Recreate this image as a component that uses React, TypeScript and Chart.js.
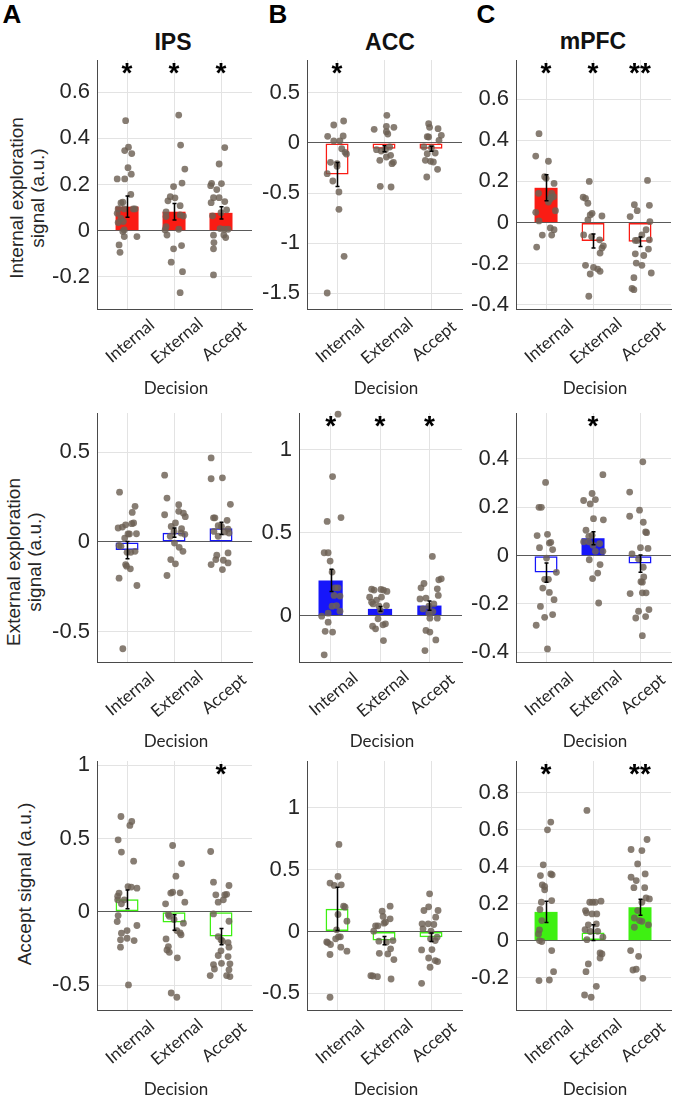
import React, { useEffect, useRef } from "react";
import { Chart, registerables } from "chart.js";
Chart.register(...registerables);

type Pt = [number, number]; // [horizontal jitter in category units, value]

const categories = ["Internal", "External", "Accept"];
const regions = ["IPS", "ACC", "mPFC"];
const panelLetters = ["A", "B", "C"];
const signalTitles = [
  ["Internal exploration", "signal (a.u.)"],
  ["External exploration", "signal (a.u.)"],
  ["Accept signal (a.u.)"],
];
const xTitle = "Decision";
const xRange = [0.36, 3.66];

// ---------- Row 1: internal exploration signal ----------
const ipsIntMean = [0.104, 0.082, 0.077];
const ipsIntSem = [0.046, 0.036, 0.027];
const ipsIntStars = ["*", "*", "*"];
const ipsIntFilled = [true, true, true];
const ipsIntTicks = [-0.2, 0, 0.2, 0.4, 0.6];
const ipsIntRange = [-0.34, 0.74];
const ipsIntPoints: Pt[][] = [
  [[-0.03,0.477],[-0.21,0.224],[-0.05,0.224],[-0.05,0.347],[0.03,0.362],[0.10,0.334],[0.02,0.273],[0.09,0.245],[0.08,0.157],[-0.13,0.12],[-0.09,0.123],[-0.19,0.094],[-0.06,0.094],[0.13,0.094],[0.17,0.094],[-0.21,0.075],[-0.13,0.053],[-0.08,0.039],[-0.19,0.035],[-0.06,0.003],[-0.09,-0.004],[-0.06,-0.026],[0.21,-0.026],[-0.17,-0.062],[-0.15,-0.094]],
  [[0.10,0.501],[0.14,0.371],[0.23,0.267],[-0.01,0.191],[0.17,0.206],[-0.08,0.147],[0.02,0.142],[-0.13,0.129],[0.13,0.108],[-0.17,0.081],[-0.17,0.061],[0.13,0.068],[0.2,0.063],[-0.17,0.017],[-0.19,0.003],[0.10,0.006],[-0.15,-0.019],[-0.01,-0.079],[0.16,-0.065],[-0.06,-0.137],[0.18,-0.178],[0.13,-0.269]],
  [[0.08,0.36],[-0.04,0.289],[-0.2,0.205],[-0.22,0.195],[0.01,0.204],[-0.09,0.178],[-0.16,0.143],[-0.04,0.143],[0.08,0.126],[-0.21,0.121],[0,0.078],[0.12,0.09],[-0.18,0.064],[-0.02,0.009],[0.07,0.006],[0.15,0.006],[-0.16,-0.02],[0.06,-0.019],[0.1,-0.03],[-0.15,-0.052],[-0.16,-0.079],[-0.16,-0.192]],
];

const accIntMean = [-0.316, -0.057, -0.057];
const accIntSem = [0.12, 0.03, 0.025];
const accIntStars = ["*", "", ""];
const accIntFilled = [false, false, false];
const accIntTicks = [-1.5, -1, -0.5, 0, 0.5];
const accIntRange = [-1.66, 0.83];
const accIntPoints: Pt[][] = [
  [[0.14,0.22],[-0.07,0.18],[-0.2,0.067],[0.13,0.07],[-0.07,0.02],[0.06,0.02],[0.17,-0.093],[0.2,-0.11],[-0.14,-0.193],[0,-0.207],[0,-0.233],[-0.21,-0.307],[-0.09,-0.38],[0.04,-0.49],[0.04,-0.663],[0.15,-1.133],[-0.21,-1.5],[0.1,-0.057]],
  [[0.06,0.277],[-0.21,0.137],[0.05,0.167],[0.21,0.157],[0.05,0.113],[0.08,0.09],[-0.16,-0.067],[-0.06,-0.08],[0.03,-0.067],[0.12,-0.04],[0.14,-0.123],[-0.09,-0.173],[0.17,-0.207],[0.2,-0.193],[0.05,-0.14],[-0.08,-0.433],[0.15,-0.44]],
  [[-0.05,0.193],[-0.03,0.157],[0.15,0.143],[-0.05,0.06],[-0.08,0.063],[0.22,0.077],[0.17,0.027],[-0.15,-0.04],[0.01,-0.047],[0.09,-0.1],[-0.08,-0.107],[-0.12,-0.173],[-0.01,-0.183],[0.05,-0.19],[0.14,-0.263],[-0.09,-0.34]],
];

const mpfcIntMean = [0.169, -0.09, -0.093];
const mpfcIntSem = [0.063, 0.034, 0.023];
const mpfcIntStars = ["*", "*", "**"];
const mpfcIntFilled = [true, false, false];
const mpfcIntTicks = [-0.4, -0.2, 0, 0.2, 0.4, 0.6];
const mpfcIntRange = [-0.42, 0.79];
const mpfcIntPoints: Pt[][] = [
  [[-0.15,0.432],[-0.22,0.323],[0.05,0.298],[-0.03,0.223],[0,0.215],[0.17,0.19],[-0.16,0.142],[0.12,0.142],[0.16,0.126],[0.1,0.123],[0.05,0.1],[0.09,0.115],[-0.22,0.05],[0.2,0.058],[-0.15,0.008],[0.09,-0.026],[0.17,-0.035],[-0.08,-0.061],[0.12,-0.061],[-0.2,-0.119]],
  [[-0.08,0.2],[-0.21,0.123],[-0.16,0.118],[-0.11,0.094],[-0.02,0.045],[-0.06,0.037],[0.19,0.032],[-0.11,0.013],[-0.2,-0.06],[-0.03,-0.068],[0.14,-0.084],[0.22,-0.113],[0.19,-0.124],[0.15,-0.148],[-0.16,-0.208],[0.01,-0.218],[0.1,-0.226],[0.15,-0.237],[-0.06,-0.25],[-0.09,-0.358]],
  [[0.16,0.205],[-0.12,0.087],[0.2,0.084],[-0.21,0.029],[-0.06,0.058],[0.21,0.005],[0.13,-0.035],[0.04,-0.06],[-0.1,-0.087],[-0.06,-0.087],[0.2,-0.084],[0.18,-0.129],[-0.1,-0.152],[-0.08,-0.197],[0.04,-0.208],[0.24,-0.245],[-0.13,-0.268],[-0.17,-0.32],[-0.13,-0.326],[0.08,-0.16]],
];

// ---------- Row 2: external exploration signal ----------
const ipsExtMean = [-0.045, 0.052, 0.076];
const ipsExtSem = [0.048, 0.026, 0.034];
const ipsExtStars = ["", "", ""];
const ipsExtFilled = [false, false, false];
const ipsExtTicks = [-0.5, 0, 0.5];
const ipsExtRange = [-0.67, 0.72];
const ipsExtPoints: Pt[][] = [
  [[-0.16,0.278],[0.17,0.199],[0.11,0.165],[-0.1,0.083],[-0.03,0.096],[0.1,0.102],[0.14,0.106],[-0.19,0.078],[0.02,0.045],[0.05,0.045],[0.2,0.046],[-0.05,0.022],[-0.17,-0.019],[-0.13,-0.024],[0,-0.058],[0.08,-0.058],[0.17,-0.052],[-0.03,-0.126],[-0.01,-0.135],[0.07,-0.15],[-0.17,-0.202],[0.21,-0.243],[-0.09,-0.596]],
  [[-0.2,0.373],[-0.15,0.245],[0.1,0.208],[-0.2,0.152],[0.1,0.171],[0.2,0.161],[0.24,0.141],[0.03,0.106],[-0.06,0.087],[0,0.059],[0.16,0.074],[0.15,0.05],[0.23,0.043],[-0.08,0.032],[0.01,-0.006],[0.11,-0.03],[0.19,-0.052],[-0.07,-0.098],[0.03,-0.122],[-0.15,-0.187]],
  [[-0.21,0.469],[-0.21,0.353],[0.03,0.358],[0.2,0.21],[-0.16,0.135],[-0.13,0.135],[0.13,0.121],[-0.06,0.091],[0.01,0.087],[0.15,0.072],[-0.15,0.059],[0.08,0.056],[0.17,0.05],[-0.06,0.032],[-0.09,-0.074],[-0.11,-0.098],[0.15,-0.061],[0.05,-0.102],[-0.21,-0.126],[0.15,-0.117],[0.03,-0.154]],
];

const accExtMean = [0.211, 0.04, 0.06];
const accExtSem = [0.067, 0.015, 0.028];
const accExtStars = ["*", "*", "*"];
const accExtFilled = [true, true, true];
const accExtTicks = [0, 0.5, 1];
const accExtRange = [-0.28, 1.22];
const accExtPoints: Pt[][] = [
  [[0.15,1.213],[0.04,0.837],[-0.07,0.567],[0.21,0.59],[-0.13,0.378],[-0.05,0.378],[-0.01,0.328],[0.03,0.262],[0.09,0.167],[0.15,0.167],[0.07,0.121],[0.19,0.117],[0.12,0.06],[0.03,0.056],[0.19,0.026],[-0.05,0.014],[-0.18,-0.004],[-0.05,-0.04],[-0.11,-0.095],[0.04,-0.1],[-0.13,-0.237]],
  [[-0.17,0.159],[-0.12,0.153],[0.02,0.157],[0.07,0.153],[0.14,0.145],[-0.21,0.11],[-0.07,0.093],[0.03,0.111],[-0.17,0.08],[-0.14,0.07],[-0.02,0.056],[0.13,0.06],[0.01,0.03],[-0.15,-0.064],[-0.09,-0.08],[0.06,-0.056],[0.11,-0.05],[-0.04,-0.02],[0.07,-0.151]],
  [[0.06,0.356],[-0.11,0.193],[-0.17,0.167],[0.19,0.215],[0.24,0.221],[0.16,0.161],[0.18,0.121],[-0.07,0.105],[-0.19,0.1],[0.09,0.07],[-0.01,0.056],[-0.13,0.04],[-0.01,0.014],[0.07,0.024],[0.16,-0.016],[0.01,-0.016],[-0.07,-0.09],[0.01,-0.1],[0.13,-0.147],[-0.09,-0.211]],
];

const mpfcExtMean = [-0.07, 0.072, -0.033];
const mpfcExtSem = [0.04, 0.027, 0.036];
const mpfcExtStars = ["", "*", ""];
const mpfcExtFilled = [false, true, false];
const mpfcExtTicks = [-0.4, -0.2, 0, 0.2, 0.4];
const mpfcExtRange = [-0.44, 0.59];
const mpfcExtPoints: Pt[][] = [
  [[-0.01,0.303],[-0.15,0.2],[-0.1,0.2],[-0.19,0.083],[0.03,0.088],[-0.14,0.033],[0.07,0.052],[0.1,0.055],[0.14,0.025],[0.01,-0.01],[0.22,-0.069],[-0.03,-0.098],[0.05,-0.098],[-0.07,-0.134],[0.07,-0.152],[0.17,-0.182],[-0.12,-0.21],[0.14,-0.244],[-0.03,-0.255],[-0.21,-0.288],[0.03,-0.386]],
  [[0.21,0.335],[-0.02,0.257],[0.05,0.232],[-0.2,0.228],[-0.06,0.214],[0.01,0.153],[0.22,0.148],[-0.15,0.105],[-0.02,0.084],[-0.09,0.08],[-0.2,0.057],[-0.09,0.057],[0,0.043],[0.14,0.05],[0.05,0.018],[0.21,0.018],[-0.08,-0.017],[0.15,-0.037],[-0.01,-0.095],[0.1,-0.072],[0.12,-0.196]],
  [[0.06,0.388],[-0.22,0.263],[-0.22,0.163],[-0.01,0.188],[0.07,0.138],[0.12,0.098],[0.14,0.095],[0.01,0.033],[0.17,0.03],[-0.17,0.007],[-0.03,-0.014],[0.07,-0.048],[0.02,-0.108],[0.05,-0.11],[0.08,-0.088],[-0.21,-0.157],[0.05,-0.154],[0.13,-0.154],[0.19,-0.223],[-0.03,-0.23],[-0.09,-0.258],[0.12,-0.252],[0.05,-0.331]],
];

// ---------- Row 3: accept signal ----------
const ipsAccMean = [0.086, -0.073, -0.169];
const ipsAccSem = [0.064, 0.053, 0.056];
const ipsAccStars = ["", "", "*"];
const ipsAccFilled = [false, false, false];
const ipsAccTicks = [-0.5, 0, 0.5, 1];
const ipsAccRange = [-0.67, 1.03];
const ipsAccPoints: Pt[][] = [
  [[-0.13,0.651],[0.1,0.617],[0.06,0.59],[-0.19,0.492],[-0.12,0.408],[0.14,0.346],[0.02,0.173],[0.09,0.169],[0.21,0.162],[-0.17,0.128],[-0.2,0.107],[-0.06,0.082],[-0.2,0.082],[-0.12,0.055],[-0.19,-0.025],[-0.21,-0.066],[0.21,-0.093],[0,-0.128],[-0.12,-0.146],[0,-0.18],[-0.14,-0.191],[0.15,-0.196],[-0.14,-0.241],[0.03,-0.499]],
  [[-0.03,0.453],[0.16,0.33],[0.04,0.244],[-0.03,0.134],[-0.07,0.128],[0.13,0.13],[-0.18,0.055],[0.23,0.066],[-0.12,-0.018],[-0.1,-0.03],[0,-0.052],[0.2,-0.077],[0.06,-0.128],[0.13,-0.144],[0.15,-0.157],[-0.17,-0.185],[-0.12,-0.237],[-0.15,-0.26],[-0.1,-0.276],[0.07,-0.314],[-0.06,-0.554],[0.06,-0.583]],
  [[-0.22,0.412],[-0.16,0.203],[0.17,0.18],[-0.11,0.116],[0.08,0.116],[0.12,0.12],[-0.06,0.066],[0.05,0.082],[-0.16,-0.014],[0.17,-0.064],[-0.06,-0.169],[0,-0.191],[0.03,-0.2],[0.15,-0.21],[0.17,-0.241],[0,-0.266],[-0.06,-0.298],[0.15,-0.305],[0.01,-0.351],[0.19,-0.355],[-0.16,-0.36],[-0.14,-0.39],[0.17,-0.396],[-0.23,-0.435],[0.12,-0.435],[0.19,-0.442]],
];

const accAccMean = [0.184, -0.073, -0.046];
const accAccSem = [0.175, 0.033, 0.034];
const accAccStars = ["", "", ""];
const accAccFilled = [false, false, false];
const accAccTicks = [-0.5, 0, 0.5, 1];
const accAccRange = [-0.635, 1.38];
const accAccPoints: Pt[][] = [
  [[0.04,0.705],[0.02,0.446],[-0.15,0.392],[-0.06,0.373],[0.09,0.378],[0.14,0.205],[0.17,0.197],[0.02,0.138],[0.21,0.084],[-0.01,0.014],[0.03,-0.043],[0.07,-0.043],[-0.03,-0.059],[-0.22,-0.084],[-0.2,-0.089],[-0.14,-0.105],[0.08,-0.127],[0.21,-0.159],[-0.15,-0.186],[-0.15,-0.532]],
  [[0.13,0.205],[-0.04,0.165],[-0.02,0.122],[0.13,0.103],[0,0.068],[0.03,0.076],[-0.18,0.046],[-0.13,0.046],[-0.22,0.003],[0.19,-0.073],[-0.11,-0.078],[0.05,-0.086],[0.14,-0.14],[-0.1,-0.176],[0.08,-0.181],[0.21,-0.227],[-0.28,-0.357],[-0.24,-0.36],[-0.14,-0.365],[0.15,-0.384]],
  [[-0.03,0.305],[-0.05,0.2],[-0.15,0.17],[0.15,0.17],[0.1,0.116],[-0.19,0.062],[-0.06,0.062],[0.06,0.057],[-0.17,0.022],[0,0.003],[-0.01,-0.059],[0.13,-0.046],[0.09,-0.073],[-0.2,-0.149],[0.02,-0.146],[-0.05,-0.214],[0.09,-0.235],[0.14,-0.243],[-0.02,-0.289],[-0.2,-0.419]],
];

const mpfcAccMean = [0.155, 0.043, 0.18];
const mpfcAccSem = [0.057, 0.043, 0.043];
const mpfcAccStars = ["*", "", "**"];
const mpfcAccFilled = [true, false, true];
const mpfcAccTicks = [-0.2, 0, 0.2, 0.4, 0.6, 0.8];
const mpfcAccRange = [-0.375, 0.97];
const mpfcAccPoints: Pt[][] = [
  [[0.1,0.64],[0.03,0.598],[-0.06,0.409],[-0.12,0.351],[0.1,0.36],[0.13,0.355],[-0.08,0.301],[-0.03,0.292],[-0.03,0.274],[0.12,0.216],[-0.1,0.207],[-0.13,0.168],[-0.09,0.108],[-0.14,0.058],[-0.16,0.036],[-0.14,0],[-0.09,-0.005],[0.12,-0.054],[0.16,-0.168],[-0.15,-0.216],[0.07,-0.213]],
  [[-0.13,0.703],[-0.07,0.207],[-0.01,0.207],[0.05,0.207],[0.17,0.213],[-0.16,0.162],[-0.14,0.15],[-0.02,0.144],[0.08,0.144],[-0.1,0.085],[0.07,0.09],[-0.17,0.059],[-0.06,0.049],[0.1,0.05],[0.21,0.018],[-0.13,0.005],[0.15,-0.067],[0.19,-0.072],[0.15,-0.094],[-0.1,-0.126],[-0.15,-0.168],[0.07,-0.247],[-0.18,-0.294],[-0.04,-0.306]],
  [[0.15,0.546],[-0.19,0.492],[0.04,0.486],[-0.05,0.414],[-0.19,0.342],[-0.08,0.324],[0.11,0.36],[-0.13,0.286],[0.1,0.286],[0.13,0.23],[0.2,0.225],[0.04,0.207],[-0.05,0.162],[-0.12,0.122],[-0.01,0.108],[0.04,0.104],[0.18,0.085],[-0.12,0.072],[-0.2,-0.054],[-0.03,-0.085],[-0.15,-0.159],[-0.08,-0.155],[0.06,-0.204]],
];

const rowColors = ["#fa1c14", "#1616fa", "#3ef012"];
const pointColor = "rgba(108, 96, 84, 0.82)";

type PanelData = {
  mean: number[]; sem: number[]; stars: string[]; filled: boolean[];
  ticks: number[]; range: number[]; points: Pt[][];
};

const panelData: PanelData[][] = [
  [
    { mean: ipsIntMean, sem: ipsIntSem, stars: ipsIntStars, filled: ipsIntFilled, ticks: ipsIntTicks, range: ipsIntRange, points: ipsIntPoints },
    { mean: accIntMean, sem: accIntSem, stars: accIntStars, filled: accIntFilled, ticks: accIntTicks, range: accIntRange, points: accIntPoints },
    { mean: mpfcIntMean, sem: mpfcIntSem, stars: mpfcIntStars, filled: mpfcIntFilled, ticks: mpfcIntTicks, range: mpfcIntRange, points: mpfcIntPoints },
  ],
  [
    { mean: ipsExtMean, sem: ipsExtSem, stars: ipsExtStars, filled: ipsExtFilled, ticks: ipsExtTicks, range: ipsExtRange, points: ipsExtPoints },
    { mean: accExtMean, sem: accExtSem, stars: accExtStars, filled: accExtFilled, ticks: accExtTicks, range: accExtRange, points: accExtPoints },
    { mean: mpfcExtMean, sem: mpfcExtSem, stars: mpfcExtStars, filled: mpfcExtFilled, ticks: mpfcExtTicks, range: mpfcExtRange, points: mpfcExtPoints },
  ],
  [
    { mean: ipsAccMean, sem: ipsAccSem, stars: ipsAccStars, filled: ipsAccFilled, ticks: ipsAccTicks, range: ipsAccRange, points: ipsAccPoints },
    { mean: accAccMean, sem: accAccSem, stars: accAccStars, filled: accAccFilled, ticks: accAccTicks, range: accAccRange, points: accAccPoints },
    { mean: mpfcAccMean, sem: mpfcAccSem, stars: mpfcAccStars, filled: mpfcAccFilled, ticks: mpfcAccTicks, range: mpfcAccRange, points: mpfcAccPoints },
  ],
];

// layout (plot-area boxes, px)
const colLeft = [97, 307, 516];
const rowTop = [60, 413, 761];
const PLOT_W = 156;
const PLOT_H = 249;
function plotBox(r: number, c: number) {
  if (r === 1 && c === 1) return { left: 299, top: rowTop[r], width: 164, height: PLOT_H };
  return { left: colLeft[c], top: rowTop[r], width: PLOT_W, height: PLOT_H };
}
const PAD_L = 68, PAD_T = 25, PAD_R = 3, PAD_B = 70;
const AXIS_COLOR = "#4a4a4a";
const GRID_COLOR = "#e3e3e3";
const TEXT_COLOR = "#262626";
const SANS = '"Liberation Sans", Arial, sans-serif';
const LATO = 'Lato, "Open Sans", sans-serif';

function Panel({ r, c }: { r: number; c: number }) {
  const ref = useRef<HTMLCanvasElement | null>(null);
  const box = plotBox(r, c);
  const W = box.width + PAD_L + PAD_R;
  const H = box.height + PAD_T + PAD_B;
  useEffect(() => {
    const d = panelData[r][c];
    const color = rowColors[r];
    const overlay = {
      id: "overlay" + r + c,
      afterDatasetsDraw(chart: any) {
        const { ctx, chartArea } = chart;
        const xs = chart.scales.x, ys = chart.scales.y;
        ctx.save();
        ctx.strokeStyle = "#000";
        ctx.lineWidth = 1.5;
        d.mean.forEach((m, i) => {
          const px = Math.round(xs.getPixelForValue(i + 1)) + 0.5;
          const y1 = ys.getPixelForValue(m + d.sem[i]);
          const y2 = ys.getPixelForValue(m - d.sem[i]);
          ctx.beginPath();
          ctx.moveTo(px, y1); ctx.lineTo(px, y2);
          ctx.moveTo(px - 2, y1); ctx.lineTo(px + 2, y1);
          ctx.moveTo(px - 2, y2); ctx.lineTo(px + 2, y2);
          ctx.stroke();
        });
        ctx.fillStyle = "#000";
        ctx.font = "bold 28px " + SANS;
        ctx.textAlign = "center";
        ctx.textBaseline = "alphabetic";
        d.stars.forEach((s, i) => {
          if (!s) return;
          const mt = ctx.measureText(s);
          const asc = mt.actualBoundingBoxAscent, desc = mt.actualBoundingBoxDescent;
          const cy = chartArea.top + 8;
          ctx.fillText(s, xs.getPixelForValue(i + 1), cy + (asc - desc) / 2);
        });
        ctx.restore();
      },
      afterDraw(chart: any) {
        const { ctx, chartArea } = chart;
        const xs = chart.scales.x;
        ctx.save();
        ctx.fillStyle = TEXT_COLOR;
        ctx.font = "17px " + LATO;
        ctx.textAlign = "center";
        ctx.textBaseline = "middle";
        categories.forEach((lab, i) => {
          ctx.save();
          ctx.translate(xs.getPixelForValue(i + 1) + 3, chartArea.bottom + 32);
          ctx.rotate((-40 * Math.PI) / 180);
          ctx.fillText(lab, 0, 0);
          ctx.restore();
        });
        ctx.restore();
      },
    };
    const scatterData: { x: number; y: number }[] = [];
    d.points.forEach((grp, i) => grp.forEach(([dx, v]) => scatterData.push({ x: i + 1 + dx, y: v })));
    const chart = new Chart(ref.current as HTMLCanvasElement, {
      type: "bar",
      data: {
        datasets: [
          {
            type: "scatter",
            data: scatterData,
            backgroundColor: pointColor,
            borderWidth: 0,
            pointRadius: 3.4,
            clip: false,
            order: 1,
          } as any,
          {
            type: "bar",
            data: d.mean.map((m, i) => ({ x: i + 1, y: m })),
            backgroundColor: d.filled.map((f) => (f ? color : "rgba(255,255,255,0)")),
            borderColor: color,
            borderWidth: d.filled.map((f) => (f ? 0 : 1.5)),
            borderSkipped: false,
            barPercentage: 0.49,
            categoryPercentage: 1,
            order: 2,
          } as any,
        ],
      },
      options: {
        animation: false,
        responsive: false,
        maintainAspectRatio: false,
        events: [],
        layout: { padding: { top: PAD_T, left: 0, right: PAD_R, bottom: 0 } },
        plugins: { legend: { display: false }, tooltip: { enabled: false }, title: { display: false } },
        scales: {
          x: {
            type: "linear",
            min: xRange[0],
            max: xRange[1],
            offset: false,
            bounds: "data",
            afterBuildTicks: (s: any) => { s.ticks = categories.map((_, i) => ({ value: i + 1 })); },
            afterFit: (s: any) => { s.height = PAD_B; s.paddingLeft = 0; s.paddingRight = 0; s.paddingTop = 0; s.paddingBottom = 0; },
            ticks: { display: false },
            grid: { color: GRID_COLOR, drawTicks: false, offset: false, lineWidth: 1 },
            border: { display: true, color: AXIS_COLOR, width: 1 },
          },
          y: {
            type: "linear",
            min: d.range[0],
            max: d.range[1],
            bounds: "data",
            afterBuildTicks: (s: any) => { s.ticks = d.ticks.map((v) => ({ value: v })); },
            afterFit: (s: any) => { s.width = PAD_L; s.paddingLeft = 0; s.paddingRight = 0; s.paddingTop = 0; s.paddingBottom = 0; },
            ticks: {
              autoSkip: false,
              padding: 7,
              color: TEXT_COLOR,
              font: { family: SANS, size: 22 },
              callback: (v: any) => String(v),
            },
            grid: {
              drawTicks: false,
              lineWidth: 1,
              color: (ctx: any) => (ctx.tick && ctx.tick.value === 0 ? "#5a5a5a" : GRID_COLOR),
            },
            border: { display: true, color: AXIS_COLOR, width: 1 },
          },
        },
      } as any,
      plugins: [overlay],
    });
    return () => chart.destroy();
  }, [r, c]);
  return (
    <canvas
      ref={ref}
      width={W}
      height={H}
      style={{ position: "absolute", left: box.left - PAD_L, top: box.top - PAD_T, width: W, height: H }}
    />
  );
}

function Label({ x, y, text, style }: { x: number; y: number; text: React.ReactNode; style?: React.CSSProperties }) {
  return (
    <div
      style={{
        position: "absolute", left: x, top: y, transform: "translate(-50%, -50%)",
        whiteSpace: "nowrap", lineHeight: 1, color: TEXT_COLOR, ...style,
      }}
    >
      {text}
    </div>
  );
}

const letterPos = [[12, 14], [278, 14], [486, 14]];
const titlePos = [[173, 42], [390, 42], [593, 41]];
const yTitlePos = [[27, 198], [24, 562], [24, 884]];

export default function App() {
  const cells: React.ReactNode[] = [];
  for (let r = 0; r < 3; r++) {
    for (let c = 0; c < 3; c++) {
      cells.push(<Panel key={`p${r}${c}`} r={r} c={c} />);
      const b = plotBox(r, c);
      cells.push(
        <Label key={`d${r}${c}`} x={b.left + b.width / 2 + 1} y={b.top + b.height + 78} text={xTitle}
          style={{ fontFamily: LATO, fontSize: 17 }} />
      );
    }
  }
  return (
    <div style={{ position: "absolute", left: 0, top: 0, width: 675, height: 1096, overflow: "hidden", background: "#fff" }}>
      {panelLetters.map((l, i) => (
        <Label key={"l" + i} x={letterPos[i][0]} y={letterPos[i][1]} text={l}
          style={{ fontFamily: SANS, fontSize: 26, fontWeight: "bold", color: "#000" }} />
      ))}
      {regions.map((t, i) => (
        <Label key={"t" + i} x={titlePos[i][0]} y={titlePos[i][1]} text={t}
          style={{ fontFamily: SANS, fontSize: 23, fontWeight: "bold", color: "#111" }} />
      ))}
      {signalTitles.map((lines, i) => (
        <div
          key={"y" + i}
          style={{
            position: "absolute", left: yTitlePos[i][0], top: yTitlePos[i][1],
            transform: "translate(-50%, -50%) rotate(-90deg)", whiteSpace: "nowrap",
            textAlign: "center", fontFamily: SANS, fontSize: 19, lineHeight: "21px", color: TEXT_COLOR,
          }}
        >
          {lines.map((ln, k) => <div key={k}>{ln}</div>)}
        </div>
      ))}
      {cells}
    </div>
  );
}
